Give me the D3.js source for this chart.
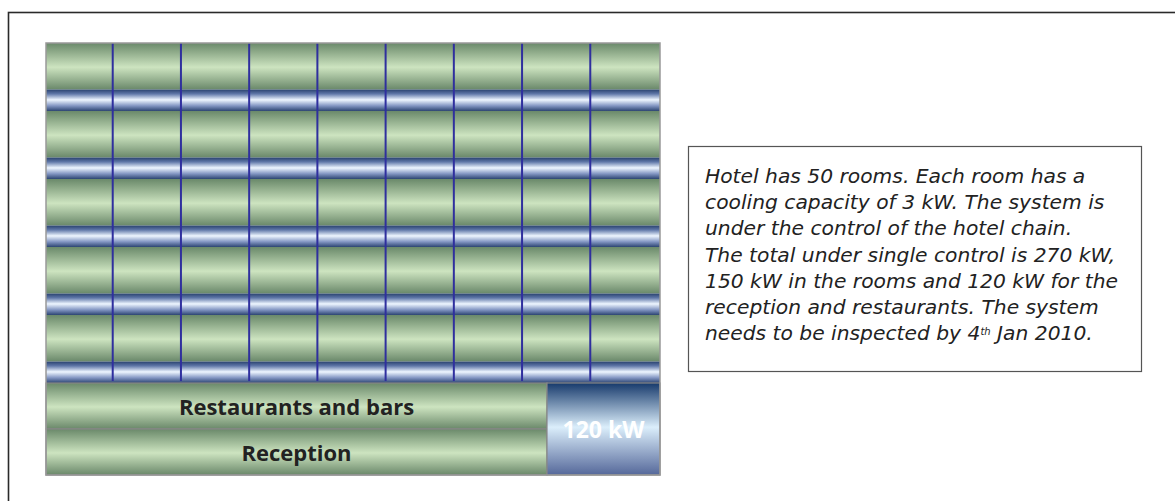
<!DOCTYPE html>
<html>
<head>
<meta charset="utf-8">
<script src="https://cdn.jsdelivr.net/npm/d3@7"></script>
<style>
  body { margin: 0; background: #fff; }
  svg { display: block; }
</style>
</head>
<body>
<div id="chart"></div>
<script>
// hotel cooling layout

var w = 1175,
    h = 501;

// data
var roomColumns = [1, 2, 3, 4, 5, 6, 7, 8, 9];
var roomRows = [1, 2, 3, 4, 5];
var sharedZones = ["Restaurants and bars", "Reception"];
var blockLabel = "120 kW";
var noteLines = [
  "Hotel has 50 rooms. Each room has a",
  "cooling capacity of 3 kW. The system is",
  "under the control of the hotel chain.",
  "The total under single control is 270 kW,",
  "150 kW in the rooms and 120 kW for the",
  "reception and restaurants. The system",
  "needs to be inspected by 4|th| Jan 2010."
];

var plan = {left: 46, right: 660, top: 43, roomsBottom: 383, bottom: 475, blockLeft: 547};

var svg = d3.select("#chart")
            .append("svg")
            .attr("width", w)
            .attr("height", h);

var defs = svg.append("defs");

function vGrad(id, stops) {
  var g = defs.append("linearGradient")
      .attr("id", id)
      .attr("x1", 0).attr("y1", 0)
      .attr("x2", 0).attr("y2", 1);
  g.selectAll("stop")
    .data(stops)
    .enter()
    .append("stop")
    .attr("offset", function(d){ return d[0]; })
    .attr("stop-color", function(d){ return d[1]; });
}

vGrad("green", [[0, "#6a896a"], [0.52, "#cde4c0"], [1, "#6a886a"]]);
vGrad("pipe", [[0, "#2a4370"], [0.2, "#5f77a8"], [0.48, "#eef6ff"], [0.75, "#8598c4"], [1, "#2c4572"]]);
vGrad("block", [[0, "#173a6c"], [0.48, "#dbeefb"], [1, "#55689a"]]);

// outer frame, runs off the right and bottom
svg.append("rect")
   .attr("x", 8.5).attr("y", 12.5)
   .attr("width", 1300).attr("height", 600)
   .attr("fill", "none")
   .attr("stroke", "#2a2a2a")
   .attr("stroke-width", 1.6);

var x = d3.scaleBand()
          .domain(roomColumns)
          .range([plan.left, plan.right]);

var y = d3.scaleBand()
          .domain(roomRows)
          .range([plan.top, plan.roomsBottom]);

var yz = d3.scaleBand()
           .domain(sharedZones)
           .range([plan.roomsBottom, plan.bottom]);

var greenShare = 0.685;

var g = svg.append("g");

// room rows: green room band + blue pipe under it
var rows = g.selectAll("g.row")
    .data(roomRows)
    .enter()
    .append("g")
    .attr("class", "row");

rows.append("rect")
    .attr("x", plan.left)
    .attr("y", function(d){ return y(d); })
    .attr("width", plan.right - plan.left)
    .attr("height", y.bandwidth() * greenShare)
    .attr("fill", "url(#green)");

rows.append("rect")
    .attr("x", plan.left)
    .attr("y", function(d){ return y(d) + y.bandwidth() * greenShare; })
    .attr("width", plan.right - plan.left)
    .attr("height", y.bandwidth() * (1 - greenShare))
    .attr("fill", "url(#pipe)");

// column dividers
g.selectAll("line.col")
  .data(roomColumns.slice(1))
  .enter()
  .append("line")
  .attr("class", "col")
  .attr("x1", function(d){ return x(d) - 1.5; })
  .attr("x2", function(d){ return x(d) - 1.5; })
  .attr("y1", plan.top)
  .attr("y2", plan.roomsBottom - 2)
  .attr("stroke", "#2f2f9e")
  .attr("stroke-width", 2);

// shared zones
g.selectAll("rect.zone")
  .data(sharedZones)
  .enter()
  .append("rect")
  .attr("class", "zone")
  .attr("x", plan.left)
  .attr("y", function(d){ return yz(d); })
  .attr("width", plan.blockLeft - plan.left)
  .attr("height", yz.bandwidth())
  .attr("fill", "url(#green)")
  .attr("stroke", "#878787")
  .attr("stroke-width", 1.2);

g.selectAll("text.zone")
  .data(sharedZones)
  .enter()
  .append("text")
  .attr("class", "zone")
  .attr("x", (plan.left + plan.blockLeft) / 2)
  .attr("y", function(d){ return yz(d) + yz.bandwidth() / 2 + 8.5; })
  .attr("text-anchor", "middle")
  .attr("font-family", "Open Sans, sans-serif")
  .attr("font-weight", "bold")
  .attr("font-size", "22px")
  .attr("fill", "#222")
  .text(function(d){ return d; });

// 120 kW block
g.append("rect")
  .attr("x", plan.blockLeft)
  .attr("y", plan.roomsBottom)
  .attr("width", plan.right - plan.blockLeft)
  .attr("height", plan.bottom - plan.roomsBottom)
  .attr("fill", "url(#block)")
  .attr("stroke", "#878787")
  .attr("stroke-width", 1.2);

g.append("text")
  .attr("x", (plan.blockLeft + plan.right) / 2)
  .attr("y", (plan.roomsBottom + plan.bottom) / 2 + 9)
  .attr("text-anchor", "middle")
  .attr("font-family", "Open Sans, sans-serif")
  .attr("font-weight", "bold")
  .attr("font-size", "23px")
  .attr("fill", "#fff")
  .text(blockLabel);

// chart outline
g.append("rect")
  .attr("x", plan.left).attr("y", plan.top)
  .attr("width", plan.right - plan.left)
  .attr("height", plan.bottom - plan.top)
  .attr("fill", "none")
  .attr("stroke", "#999")
  .attr("stroke-width", 1.5);

// note box
var note = svg.append("g");

note.append("rect")
    .attr("x", 688.5).attr("y", 146.5)
    .attr("width", 453).attr("height", 225)
    .attr("fill", "#fff")
    .attr("stroke", "#555")
    .attr("stroke-width", 1.2);

var ly = d3.scaleLinear().domain([0, 6]).range([183, 340]);

var txt = note.selectAll("text")
    .data(noteLines)
    .enter()
    .append("text")
    .attr("x", 705)
    .attr("y", function(d, i){ return ly(i); })
    .attr("font-family", "DejaVu Sans, sans-serif")
    .attr("font-style", "italic")
    .attr("font-size", "17px")
    .attr("fill", "#222");

txt.each(function(d){
  var parts = d.split("|");
  var t = d3.select(this);
  parts.forEach(function(p, k){
    var s = t.append("tspan").text(p);
    if (k === 1) s.attr("baseline-shift", "super").attr("font-size", "10px");
  });
});

// size the note font so line 5 is 413px wide, as in the picture
var lw = txt.filter(function(d, i){ return i === 4; }).node().getComputedTextLength();
txt.attr("font-size", (17 * 413 / lw) + "px");

</script>
</body>
</html>
